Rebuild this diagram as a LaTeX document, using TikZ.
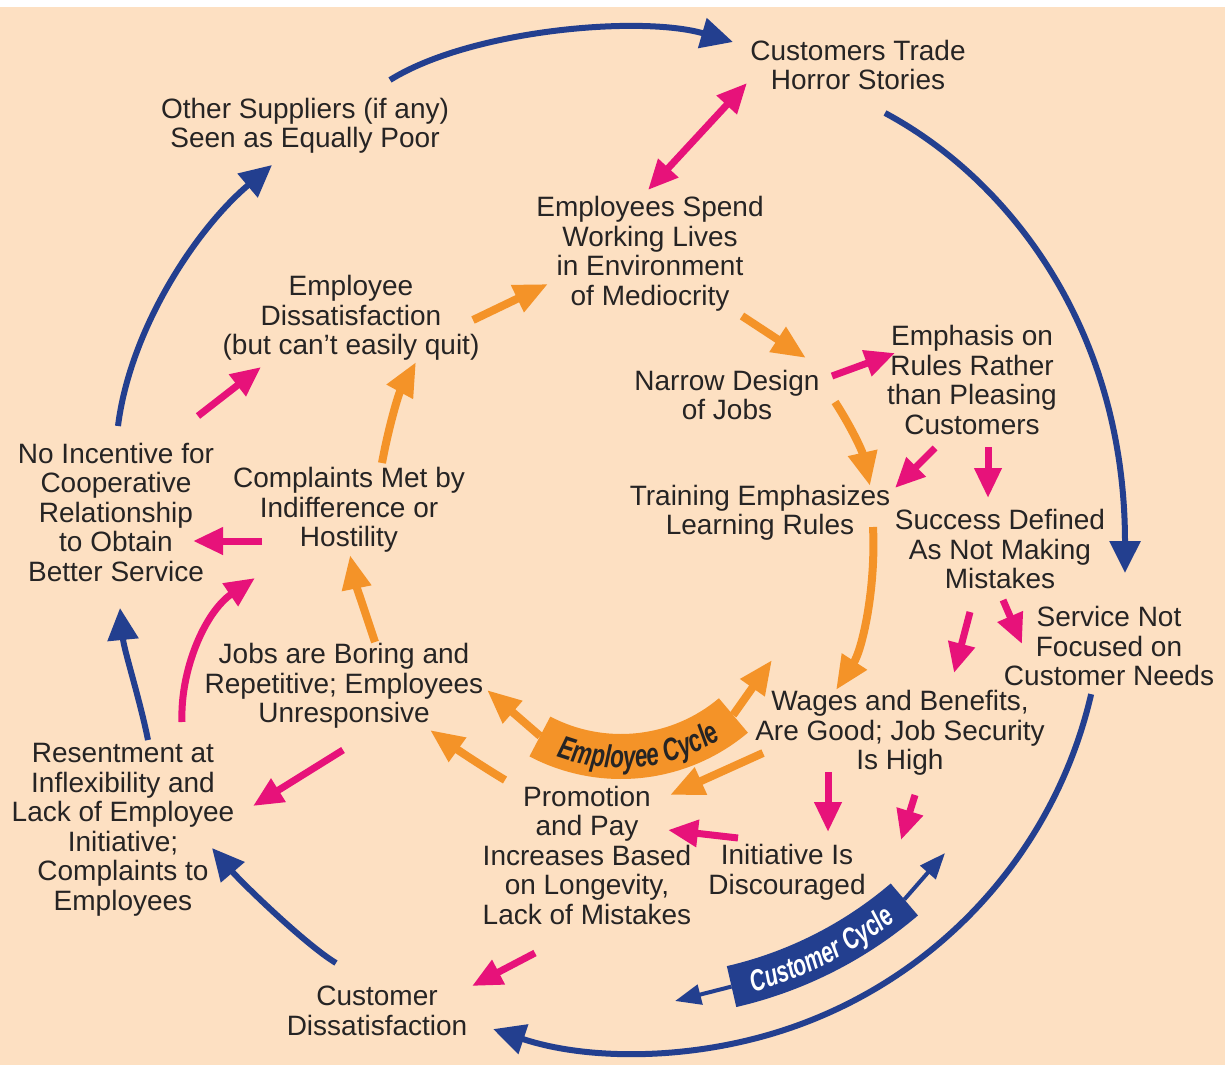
\documentclass[tikz,border=0pt]{standalone}
\usepackage{fontspec}
\setmainfont{Liberation Sans}
\newfontfamily\cyclefont{Liberation Sans}[FakeStretch=0.7]
\usetikzlibrary{arrows.meta,decorations.text}

\definecolor{paper}{RGB}{253,224,194}
\definecolor{ink}{RGB}{38,36,36}
\definecolor{custblue}{RGB}{35,63,143}
\definecolor{emporange}{RGB}{244,147,40}
\definecolor{linkpink}{RGB}{231,18,122}

\tikzset{
  boxtext/.style={align=center, inner sep=0pt, text=ink,
    font=\fontsize{28}{29.5}\selectfont},
  outerflow/.style={draw=custblue, line width=6pt, -{Triangle[length=32pt,width=30pt]}},
  innerflow/.style={draw=emporange, line width=8pt, -{Triangle[length=34pt,width=28pt]}},
  crosslink/.style={draw=linkpink, line width=7pt, -{Triangle[length=30pt,width=26pt]}},
  crosslinkboth/.style={draw=linkpink, line width=7pt,
    {Triangle[length=30pt,width=26pt]}-{Triangle[length=30pt,width=26pt]}},
  bannertip/.style={line width=4pt, -{Triangle[length=26pt,width=20pt]}},
}

\begin{document}
\begin{tikzpicture}[x=1pt,y=-1pt]
% page and background
\fill[white] (0,0) rectangle (1225,1065);
\fill[paper] (0,7) rectangle (1225,1065);
\useasboundingbox (0,0) rectangle (1225,1065);

% ---------- statements ----------
\node[boxtext] (ctrade) at (858,65) {Customers Trade\\Horror Stories};
\node[boxtext] (others) at (305,126) {Other Suppliers (if any)\\Seen as Equally Poor};
\node[boxtext] (spend) at (650,254) {Employees Spend\\Working Lives\\in Environment\\of Mediocrity};
\node[boxtext] (empdis) at (351,318) {Employee\\Dissatisfaction\\(but can’t easily quit)};
\node[boxtext] (emphasis) at (972,380) {Emphasis on\\Rules Rather\\than Pleasing\\Customers};
\node[boxtext] (narrow) at (727,395) {Narrow Design\\of Jobs};
\node[boxtext] (noinc) at (116,512) {No Incentive for\\Cooperative\\Relationship\\to Obtain\\Better Service};
\node[boxtext] (complaints) at (349,510) {Complaints Met by\\Indifference or\\Hostility};
\node[boxtext] (training) at (760,513) {Training Emphasizes\\Learning Rules};
\node[boxtext] (success) at (1000,549) {Success Defined\\As Not Making\\Mistakes};
\node[boxtext] (service) at (1109,646) {Service Not\\Focused on\\Customer Needs};
\node[boxtext] (boring) at (344,686) {Jobs are Boring and\\Repetitive; Employees\\Unresponsive};
\node[boxtext] (wages) at (900,733) {Wages and Benefits,\\Are Good; Job Security\\Is High};
\node[boxtext] (resent) at (123,830) {Resentment at\\Inflexibility and\\Lack of Employee\\Initiative;\\Complaints to\\Employees};
\node[boxtext] (promo) at (587,855) {Promotion\\and Pay\\Increases Based\\on Longevity,\\Lack of Mistakes};
\node[boxtext] (initiative) at (787,872) {Initiative Is\\Discouraged};
\node[boxtext] (custdis) at (377,1011) {Customer\\Dissatisfaction};

% ---------- cycle centres ----------
\coordinate (ec) at (621,582);   % employee cycle banner
\coordinate (cb) at (640,590);   % customer cycle banner and lower outer arc

% ---------- outer (customer) cycle ----------
\coordinate (others-out) at (390,80);   \coordinate (ctrade-in) at (733,42);
\draw[outerflow] (others-out) .. controls (470,30) and (640,15) .. (ctrade-in);
\coordinate (ctrade-out) at (885,113);  \coordinate (service-in) at (1125,573);
\draw[outerflow] (ctrade-out) .. controls (1010,180) and (1125,330) .. (service-in);
\coordinate (service-out) at ([shift={(-13:463pt)}]cb);
\draw[outerflow] (service-out) arc[start angle=-13, end angle=-108.5, radius=463pt];
\coordinate (custdis-out) at (336,963); \coordinate (resent-in) at (212,848);
\draw[outerflow] (custdis-out) .. controls (306,945) and (242,883) .. (resent-in);
\coordinate (resent-out) at (148,740);  \coordinate (noinc-in) at (120,608);
\draw[outerflow] (resent-out) .. controls (140,700) and (124,650) .. (noinc-in);
\coordinate (noinc-out) at (118,426);   \coordinate (others-in) at (272,165);
\draw[outerflow] (noinc-out) .. controls (130,330) and (195,230) .. (others-in);

% ---------- inner (employee) cycle ----------
\coordinate (empdis-out) at (473,320);  \coordinate (spend-in) at (548,284);
\draw[innerflow] (empdis-out) -- (spend-in);
\coordinate (spend-out) at (742,316);   \coordinate (narrow-in) at (806,358);
\draw[innerflow] (spend-out) -- (narrow-in);
\coordinate (narrow-out) at (835,402);  \coordinate (training-in) at (870,486);
\draw[innerflow] (narrow-out) .. controls (850,425) and (862,450) .. (training-in);
\coordinate (training-out) at (873,527); \coordinate (wages-in) at (836,690);
\draw[innerflow] (training-out) .. controls (876,590) and (862,650) .. (wages-in);
\coordinate (wages-out) at (763,753);   \coordinate (promo-in) at (670,795);
\draw[innerflow] (wages-out) -- (promo-in);
\coordinate (promo-out) at (505,780);   \coordinate (boring-in) at (430,730);
\draw[innerflow] (promo-out) .. controls (480,765) and (455,748) .. (boring-in);
\coordinate (boring-out) at (375,642);  \coordinate (complaints-in) at (350,555);
\draw[innerflow] (boring-out) .. controls (366,615) and (356,585) .. (complaints-in);
\coordinate (complaints-out) at (382,463); \coordinate (empdis-in) at (416,362);
\draw[innerflow] (complaints-out) .. controls (388,430) and (398,395) .. (empdis-in);

% ---------- cross links ----------
\coordinate (spend-up) at (648,190);    \coordinate (ctrade-down) at (747,83);
\draw[crosslinkboth] (spend-up) -- (ctrade-down);
\coordinate (narrow-right) at (832,376); \coordinate (emphasis-left) at (895,353);
\draw[crosslink] (narrow-right) -- (emphasis-left);
\coordinate (emphasis-sw) at (935,448);  \coordinate (training-ne) at (895,488);
\draw[crosslink] (emphasis-sw) -- (training-ne);
\coordinate (emphasis-s) at (988,447);   \coordinate (success-n) at (988,498);
\draw[crosslink] (emphasis-s) -- (success-n);
\coordinate (success-s) at (970,612);    \coordinate (wages-ne) at (954,673);
\draw[crosslink] (success-s) -- (wages-ne);
\coordinate (success-se) at (1003,600);  \coordinate (service-w) at (1022,644);
\draw[crosslink] (success-se) -- (service-w);
\coordinate (wages-s) at (828,772);      \coordinate (initiative-n) at (828,832);
\draw[crosslink] (wages-s) -- (initiative-n);
\coordinate (wages-se) at (915,795);     \coordinate (wages-tip) at (901,840);
\draw[crosslink] (wages-se) -- (wages-tip);
\coordinate (initiative-w) at (738,838); \coordinate (promo-e) at (668,830);
\draw[crosslink] (initiative-w) -- (promo-e);
\coordinate (promo-sw) at (535,953);     \coordinate (custdis-ne) at (472,986);
\draw[crosslink] (promo-sw) -- (custdis-ne);
\coordinate (boring-sw) at (343,750);    \coordinate (resent-ne) at (253,806);
\draw[crosslink] (boring-sw) -- (resent-ne);
\coordinate (resent-n) at (182,722);     \coordinate (complaints-sw) at (255,578);
\draw[crosslink] (resent-n) .. controls (180,670) and (205,612) .. (complaints-sw);
\coordinate (complaints-w) at (262,541); \coordinate (noinc-e) at (193,541);
\draw[crosslink] (complaints-w) -- (noinc-e);
\coordinate (noinc-ne) at (198,416);     \coordinate (empdis-sw) at (261,367);
\draw[crosslink] (noinc-ne) -- (empdis-sw);

% ---------- employee cycle banner ----------
\coordinate (ec-left) at ([shift={(-117.7:174pt)}]ec);
\coordinate (ec-right) at ([shift={(-49.9:174pt)}]ec);
\coordinate (ec-left-tip) at (487,690);
\coordinate (ec-right-tip) at (772,660);
\draw[innerflow] (ec-left) -- (ec-left-tip);
\draw[innerflow] (ec-right) -- (ec-right-tip);
\fill[emporange] ([shift={(-117.7:197pt)}]ec) arc[start angle=-117.7, end angle=-49.9, radius=197pt]
  -- ([shift={(-49.9:152pt)}]ec) arc[start angle=-49.9, end angle=-117.7, radius=152pt] -- cycle;
\path[decorate, decoration={text along path, text align=center, text color=ink,
  text={|\cyclefont\bfseries\itshape\fontsize{32}{34}\selectfont|Employee Cycle}}]
  ([shift={(-117.7:186pt)}]ec) arc[start angle=-117.7, end angle=-49.9, radius=186pt];

% ---------- customer cycle banner ----------
\coordinate (cb-left) at ([shift={(-77:407pt)}]cb);
\coordinate (cb-right) at ([shift={(-49.5:407pt)}]cb);
\coordinate (cb-left-tip) at (675,1001);
\coordinate (cb-right-tip) at (945,853);
\draw[bannertip, draw=custblue, fill=custblue] (cb-left) -- (cb-left-tip);
\draw[bannertip, draw=custblue, fill=custblue] (cb-right) -- (cb-right-tip);
\fill[custblue] ([shift={(-77:428pt)}]cb) arc[start angle=-77, end angle=-49.5, radius=428pt]
  -- ([shift={(-49.5:386pt)}]cb) arc[start angle=-49.5, end angle=-77, radius=386pt] -- cycle;
\path[decorate, decoration={text along path, text align=center, text color=white,
  text={|\cyclefont\bfseries\itshape\fontsize{30}{32}\selectfont|Customer Cycle}}]
  ([shift={(-77:418pt)}]cb) arc[start angle=-77, end angle=-49.5, radius=418pt];
\end{tikzpicture}
\end{document}
